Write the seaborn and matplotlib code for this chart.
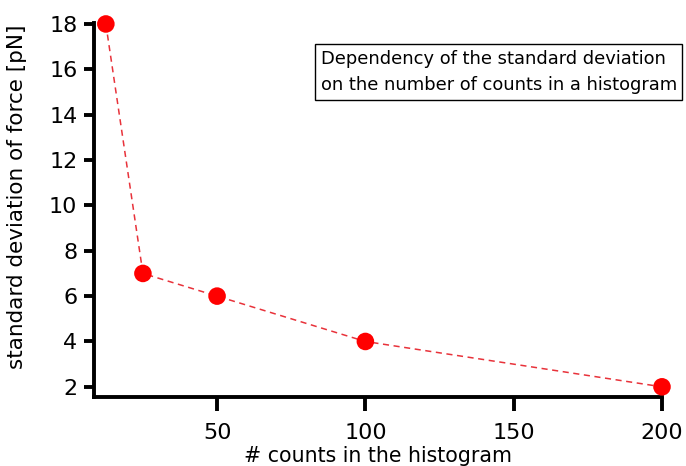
import matplotlib
matplotlib.use("Agg")
import matplotlib.pyplot as plt
import seaborn as sns
import pandas as pd

counts = [12.5, 25, 50, 100, 200]
std_force = [18, 7, 6, 4, 2]
x_ticks = [50, 100, 150, 200]
y_ticks = [2, 4, 6, 8, 10, 12, 14, 16, 18]

sns.set_style("white")
plt.rcParams["font.family"] = ["DejaVu Sans"]
plt.rcParams["text.color"] = "black"
plt.rcParams["axes.labelcolor"] = "black"
plt.rcParams["xtick.color"] = "black"
plt.rcParams["ytick.color"] = "black"

df = pd.DataFrame({"counts": counts, "std": std_force})

fig = plt.figure(figsize=(6.86, 4.66), dpi=100)
ax = fig.add_axes([0.137, 0.148, 0.828, 0.803])

sns.lineplot(data=df, x="counts", y="std", ax=ax, color="#e8323a",
             linestyle=(0, (4, 3)), linewidth=1.1, zorder=2)
sns.scatterplot(data=df, x="counts", y="std", ax=ax, color="#ff0000",
                s=160, edgecolor="none", zorder=3, clip_on=False)

ax.set_xlim(8.5, 200)
ax.set_ylim(1.55, 18.05)
ax.set_xticks(x_ticks)
ax.set_yticks(y_ticks)

for side in ("top", "right"):
    ax.spines[side].set_visible(False)
for side in ("left", "bottom"):
    ax.spines[side].set_linewidth(2.8)
    ax.spines[side].set_color("black")

ax.tick_params(axis="x", direction="out", length=10, width=2.8, labelsize=16,
               pad=9, bottom=True, colors="black")
ax.tick_params(axis="y", direction="out", length=7, width=2.8, labelsize=16,
               pad=5, left=True, colors="black")

ax.set_xlabel("# counts in the histogram", fontsize=14.8, color="black",
              va="top")
ax.xaxis.set_label_coords(0.5, -0.132)
ax.set_ylabel("standard deviation of force [pN]", fontsize=15.5,
              color="black", va="center")
ax.yaxis.set_label_coords(-0.135, 0.535)

ax.text(0.399, 0.928,
        "Dependency of the standard deviation\non the number of counts in a histogram",
        transform=ax.transAxes, fontsize=12.9, va="top", ha="left",
        linespacing=1.6, color="black",
        bbox=dict(boxstyle="square,pad=0.3", facecolor="white",
                  edgecolor="black", linewidth=1))

fig.savefig("out.png", dpi=100)
